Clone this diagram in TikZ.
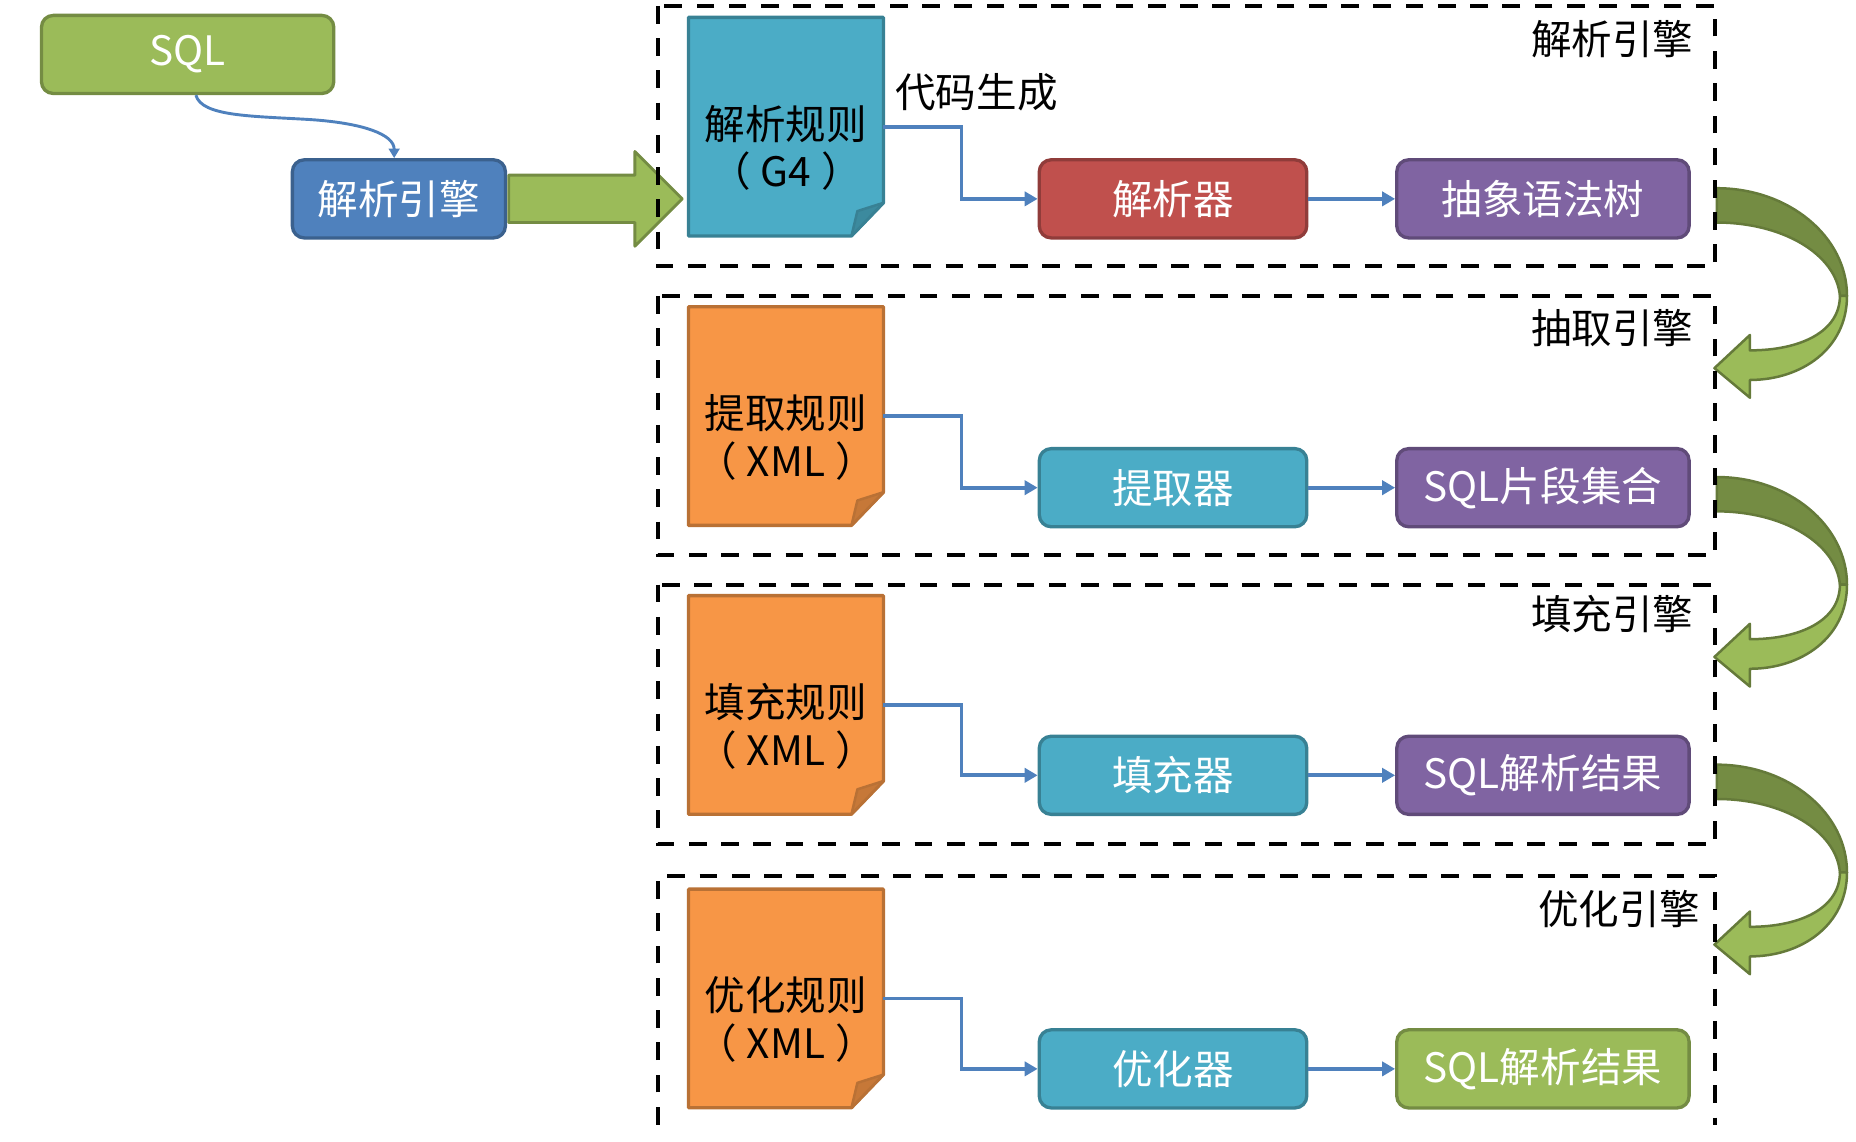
\documentclass[tikz,border=0pt]{standalone}
\usepackage{fontspec}
\setmainfont{Noto Sans CJK SC}
\usetikzlibrary{arrows.meta,calc}

\definecolor{ogreen}{HTML}{9BBB59}
\definecolor{oblue}{HTML}{4F81BD}
\definecolor{ored}{HTML}{C0504D}
\definecolor{opurple}{HTML}{8064A2}
\definecolor{oteal}{HTML}{4BACC6}
\definecolor{oorange}{HTML}{F79646}

\newcommand{\docopen}{\kern-0.25em（\kern0.25em}
\newcommand{\docclose}{\kern0.25em）\kern-0.25em}

\tikzset{
    box/.style={rounded corners=0.2cm, line width=1.6pt, fill=#1, draw=#1!75!black,
        minimum width=4.52cm, minimum height=1.32cm, inner sep=0pt, text=white},
    doc/.style={minimum width=3.28cm, minimum height=3.68cm, inner sep=0pt},
    doctext/.style={align=center, inner sep=0pt},
    link/.style={draw=oblue, line width=1.8pt, -{Triangle[length=0.22cm, width=0.24cm]}},
    frame/.style={line width=1.8pt, dash pattern=on 8.5pt off 7pt},
    pics/bendarrow/.style={code={
        \filldraw[fill=ogreen!75!black, draw=ogreen!65!black, line width=1.2pt, line join=round]
            (0,0) .. controls (61,0) and (110,41) .. (110,91) -- (104,91)
            .. controls (101,56) and (56,29) .. (0,29) -- cycle;
        \filldraw[fill=ogreen, draw=ogreen!65!black, line width=1.2pt, line join=round]
            (104,91) -- (110,91) .. controls (110,136) and (71,162) .. (28,162)
            -- (28,177) -- (-2,152) -- (28,124) -- (28,137)
            .. controls (71,137) and (104,121) .. (104,91) -- cycle;
    }}
}

\begin{document}
\begin{tikzpicture}[x=0.02cm, y=-0.02cm, font=\fontsize{19.5}{23}\selectfont]
    \useasboundingbox (0,0) rectangle (1568,964);

    \node[box=ogreen, minimum width=4.94cm] (sql) at (158.5,46) {SQL};
    \node[box=oblue, minimum width=3.6cm] (engine) at (337,168) {解析引擎};

    \node[doc] (d1) at (664,107) {};
    \node[doc] (d2) at (664,351.5) {};
    \node[doc] (d3) at (664,595.5) {};
    \node[doc] (d4) at (664,843.5) {};

    \node[box=ored] (p1) at (991,168) {解析器};
    \node[box=oteal] (p2) at (991,412) {提取器};
    \node[box=oteal] (p3) at (991,655) {填充器};
    \node[box=oteal] (p4) at (991,903) {优化器};

    \node[box=opurple, minimum width=4.94cm] (r1) at (1303.5,168) {抽象语法树};
    \node[box=opurple, minimum width=4.94cm] (r2) at (1303.5,412) {SQL片段集合};
    \node[box=opurple, minimum width=4.94cm] (r3) at (1303.5,655) {SQL解析结果};
    \node[box=ogreen, minimum width=4.94cm] (r4) at (1303.5,903) {SQL解析结果};

    % rule files with folded corner
    \foreach \d/\c in {d1/oteal, d2/oorange, d3/oorange, d4/oorange} {
        \filldraw[fill=\c, draw=\c!75!black, line width=1.6pt, line join=round]
            (\d.north west) -- (\d.north east) -- ($(\d.south east)+(0,-28)$)
            -- ($(\d.south east)+(-27,0)$) -- (\d.south west) -- cycle;
        \filldraw[fill=\c!80!black, draw=\c!75!black, line width=1.2pt, line join=round]
            ($(\d.south east)+(0,-28)$) -- ($(\d.south east)+(-22,-21)$)
            -- ($(\d.south east)+(-27,0)$) -- cycle;
    }
    \node[doctext] (t1) at ($(d1)+(0,18)$) {解析规则\\\docopen G4\docclose};
    \node[doctext] (t2) at ($(d2)+(0,18)$) {提取规则\\\docopen XML\docclose};
    \node[doctext] (t3) at ($(d3)+(0,18)$) {填充规则\\\docopen XML\docclose};
    \node[doctext] (t4) at ($(d4)+(0,18)$) {优化规则\\\docopen XML\docclose};

    \coordinate (bend) at (262,101);
    \draw[draw=oblue, line width=1.4pt, -{Triangle[length=0.16cm, width=0.18cm]}]
        ($(sql.south)+(7,0)$) .. controls +(5,18) and +(-50,-3) .. (bend)
        .. controls +(45,3) and +(0,-20) .. ($(engine.north)+(-4,0)$);

    \filldraw[fill=ogreen, draw=ogreen!75!black, line width=1.4pt, line join=round]
        ($(engine.east)+(1.4,-20)$) -- ($(engine.east)+(108,-20)$) -- ($(engine.east)+(108,-40)$)
        -- ($(engine.east)+(148,0)$) -- ($(engine.east)+(108,40)$) -- ($(engine.east)+(108,20)$)
        -- ($(engine.east)+(1.4,20)$) -- cycle;

    \foreach \d/\p/\r in {d1/p1/r1, d2/p2/r2, d3/p3/r3, d4/p4/r4} {
        \draw[link] (\d.east) -- ++(66,0) |- (\p.west);
        \draw[link] (\p.east) -- (\r.west);
    }
    \node[inner sep=0pt] (gen) at (825,78) {代码生成};

    \foreach \r in {r1, r2, r3}
        \pic at ($(\r.east)+(22,-9)$) {bendarrow};

    % engine frames
    \draw[frame] (556,5) rectangle (1449,225);
    \draw[frame] (556,250) rectangle (1449,469);
    \draw[frame] (556,494) rectangle (1449,713);
    \draw[frame] (556,950) -- (556,740) -- (1449,740) -- (1449,950);

    \node[anchor=east, inner sep=0pt] (f1) at (1431,33) {解析引擎};
    \node[anchor=east, inner sep=0pt] (f2) at (1431,277) {抽取引擎};
    \node[anchor=east, inner sep=0pt] (f3) at (1431,519) {填充引擎};
    \node[anchor=east, inner sep=0pt] (f4) at (1437,768) {优化引擎};
\end{tikzpicture}
\end{document}
